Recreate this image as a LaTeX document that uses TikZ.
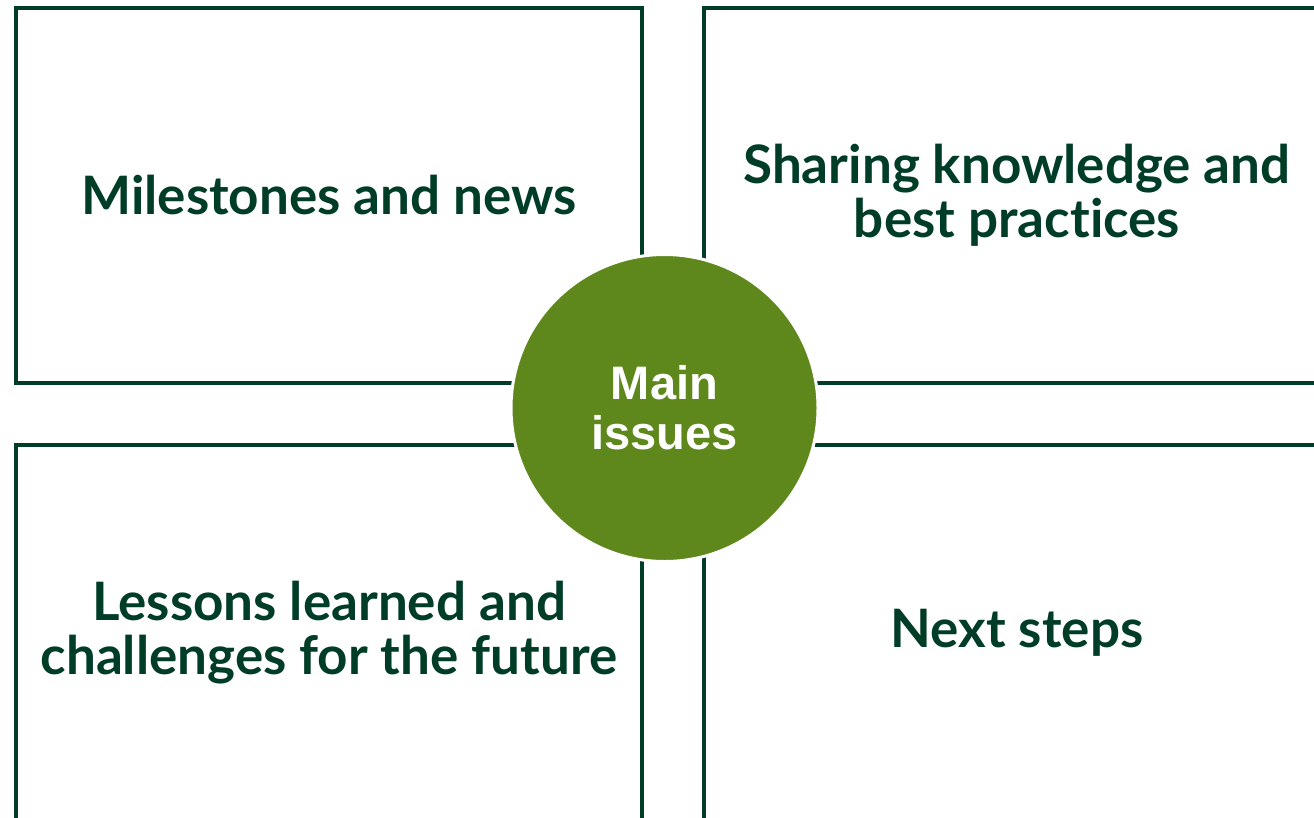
\documentclass[tikz,border=0pt]{standalone}
\usepackage{fontspec}
\newfontfamily\boxfont{Lato}[Ligatures={NoCommon,NoRare}]
\newfontfamily\circfont{Liberation Sans}
\definecolor{dkgreen}{HTML}{003D26}
\definecolor{midgreen}{HTML}{5E881B}
\begin{document}
\begin{tikzpicture}[x=1pt,y=-1pt,
  quad/.style={draw=dkgreen, line width=4pt, rectangle, inner sep=0pt,
    minimum width=626pt, minimum height=375pt, align=center, text=dkgreen,
    font=\boxfont\bfseries\fontsize{53pt}{54pt}\selectfont},
  hub/.style={circle, fill=midgreen, draw=white, line width=3pt, inner sep=0pt,
    minimum size=307pt, align=center, text=white,
    font=\circfont\bfseries\fontsize{47pt}{50pt}\selectfont}]
\useasboundingbox (0,0) rectangle (1314,817);
\clip (0,0) rectangle (1314,817);
\fill[white] (0,0) rectangle (1314,817);
\node[quad] (tl) at (329,195.5) {Milestones and news};
\node[quad] (tr) at (1017,195.5) {Sharing knowledge and\\best practices};
\node[quad] (bl) at (329,632.5) {Lessons learned and\\challenges for the future};
\node[quad] (br) at (1017,632.5) {Next steps};
\node[hub] (hub) at (664.5,408) {Main\\issues};
\end{tikzpicture}
\end{document}
